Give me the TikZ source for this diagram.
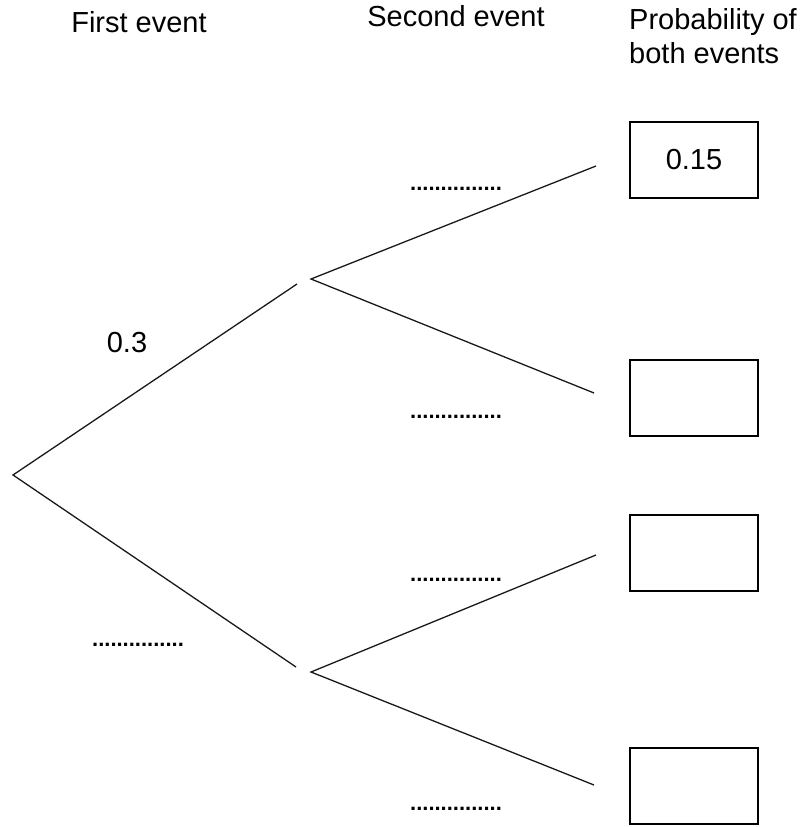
\documentclass[tikz,border=0pt]{standalone}
\usepackage{fontspec}
\setmainfont{Liberation Sans}
\begin{document}
\begin{tikzpicture}[x=1pt,y=-1pt,
  branch/.style={line width=1.3pt, color=black!90},
  probbox/.style={draw, line width=2pt, minimum width=128pt, minimum height=76pt, inner sep=0pt, font=\fontsize{29}{34}\selectfont},
  lbl/.style={font=\fontsize{29}{34}\selectfont, inner sep=0pt, anchor=base},
  blank/.style={font=\fontsize{22}{26}\selectfont\bfseries, inner sep=0pt, anchor=base}]
\useasboundingbox (0,0) rectangle (805,827);
% headings
\node[lbl] (h1) at (139,32) {First event};
\node[lbl] (h2) at (456,27) {Second event};
\node[lbl, anchor=base west] (h3) at (629,29) {Probability of};
\node[lbl, anchor=base west] (h4) at (629,63) {both events};
% tree points
\coordinate (root) at (13,475);
\coordinate (upEnd) at (297,284);
\coordinate (loEnd) at (296,667);
\coordinate (A) at (311,279);
\coordinate (B) at (311,672);
\coordinate (aa) at (596,166);
\coordinate (ab) at (594,393);
\coordinate (ba) at (596,555);
\coordinate (bb) at (594,785);
\draw[branch] (upEnd) -- (root) -- (loEnd);
\draw[branch] (aa) -- (A) -- (ab);
\draw[branch] (ba) -- (B) -- (bb);
% boxes
\node[probbox] (p1) at (694,160) {0.15};
\node[probbox] (p2) at (694,398) {};
\node[probbox] (p3) at (694,552.5) {};
\node[probbox] (p4) at (694,786) {};
% labels
\node[lbl] (l1) at (127,352) {0.3};
\node[blank] (d0) at (138,646) {...............};
\node[blank] (d1) at (456,190) {...............};
\node[blank] (d2) at (456,418) {...............};
\node[blank] (d3) at (456,581) {...............};
\node[blank] (d4) at (456,810) {...............};
\end{tikzpicture}
\end{document}
